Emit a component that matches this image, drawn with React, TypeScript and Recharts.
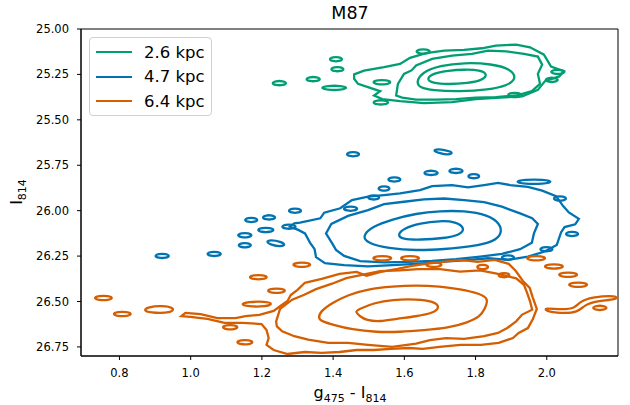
import { ComposedChart, Line, XAxis, YAxis, ReferenceArea } from 'recharts'

type Pt = [number, number]

const GREEN = '#029e73'
const BLUE = '#0173b2'
const ORANGE = '#d55e00'

const X_TICKS = [0.8, 1.0, 1.2, 1.4, 1.6, 1.8, 2.0]
const Y_TICKS = [25.0, 25.25, 25.5, 25.75, 26.0, 26.25, 26.5, 26.75]
const X_DOMAIN: [number, number] = [0.692, 2.2]
const Y_DOMAIN: [number, number] = [25.0, 26.8]

const SERIES = [
  { name: '2.6 kpc', color: GREEN },
  { name: '4.7 kpc', color: BLUE },
  { name: '6.4 kpc', color: ORANGE },
]

// --- 2.6 kpc contours (green) ---
const greenL4: Pt[] = [
  [1.661, 25.274], [1.683, 25.243], [1.723, 25.229], [1.768, 25.223], [1.813, 25.225],
  [1.835, 25.25], [1.818, 25.283], [1.779, 25.298], [1.723, 25.305], [1.678, 25.298],
]
const greenL3: Pt[] = [
  [1.633, 25.293], [1.65, 25.238], [1.7, 25.201], [1.768, 25.185], [1.846, 25.192],
  [1.897, 25.219], [1.916, 25.269], [1.891, 25.311], [1.835, 25.335], [1.756, 25.344],
  [1.678, 25.338], [1.644, 25.324],
]
const greenL2: Pt[] = [
  [1.577, 25.366], [1.582, 25.302], [1.599, 25.247], [1.62, 25.228], [1.633, 25.201], [1.678, 25.165],
  [1.734, 25.146], [1.79, 25.137], [1.835, 25.119], [1.886, 25.123], [1.936, 25.137],
  [1.975, 25.152], [1.987, 25.196], [1.975, 25.247], [1.981, 25.302], [1.958, 25.342],
  [1.914, 25.366], [1.857, 25.375], [1.801, 25.378], [1.745, 25.386], [1.689, 25.389],
  [1.633, 25.389], [1.594, 25.378],
]
const greenL1: Pt[] = [
  [1.459, 25.25], [1.487, 25.229], [1.543, 25.21], [1.588, 25.192], [1.616, 25.159],
  [1.661, 25.133], [1.712, 25.119], [1.768, 25.115], [1.818, 25.106], [1.857, 25.091],
  [1.914, 25.086], [1.953, 25.101], [1.992, 25.141], [2.012, 25.207], [2.048, 25.232],
  [2.035, 25.261], [1.995, 25.287], [1.975, 25.335], [1.931, 25.371], [1.869, 25.378],
  [1.801, 25.386], [1.734, 25.402], [1.655, 25.408], [1.588, 25.397], [1.538, 25.386],
  [1.515, 25.366], [1.532, 25.342], [1.504, 25.324], [1.47, 25.302], [1.459, 25.274],
]
const greenBlobs: Pt[][] = [
  [[1.227, 25.298], [1.238, 25.286], [1.26, 25.286], [1.271, 25.298], [1.26, 25.31], [1.238, 25.31]],
  [[1.322, 25.276], [1.333, 25.264], [1.355, 25.264], [1.366, 25.276], [1.355, 25.288], [1.333, 25.288]],
  [[1.388, 25.166], [1.398, 25.154], [1.418, 25.154], [1.428, 25.166], [1.418, 25.178], [1.398, 25.178]],
  [[1.392, 25.221], [1.402, 25.209], [1.422, 25.209], [1.432, 25.221], [1.422, 25.233], [1.402, 25.233]],
  [[1.363, 25.324], [1.383, 25.312], [1.423, 25.312], [1.443, 25.324], [1.423, 25.336], [1.383, 25.336]],
  [[1.51, 25.404], [1.522, 25.392], [1.546, 25.392], [1.558, 25.404], [1.546, 25.416], [1.522, 25.416]],
  [[1.631, 25.124], [1.642, 25.112], [1.664, 25.112], [1.675, 25.124], [1.664, 25.136], [1.642, 25.136]],
  [[1.888, 25.363], [1.899, 25.351], [1.921, 25.351], [1.932, 25.363], [1.921, 25.375], [1.899, 25.375]],
  [[2.009, 25.236], [2.02, 25.224], [2.042, 25.224], [2.053, 25.236], [2.042, 25.248], [2.02, 25.248]],
  [[1.509, 25.293], [1.523, 25.281], [1.551, 25.281], [1.565, 25.293], [1.551, 25.305], [1.523, 25.305]],
  [[1.994, 25.28], [2.004, 25.268], [2.024, 25.268], [2.034, 25.28], [2.024, 25.292], [2.004, 25.292]],
]

// --- 4.7 kpc contours (blue) ---
const blueL4: Pt[] = [
  [1.58, 26.134], [1.599, 26.097], [1.644, 26.07], [1.7, 26.055], [1.745, 26.061],
  [1.771, 26.097], [1.756, 26.134], [1.712, 26.152], [1.644, 26.161], [1.594, 26.157],
]
const blueL3: Pt[] = [
  [1.481, 26.143], [1.509, 26.088], [1.566, 26.048], [1.633, 26.015], [1.7, 26.002],
  [1.768, 26.0], [1.835, 26.024], [1.869, 26.07], [1.874, 26.128], [1.852, 26.17],
  [1.79, 26.198], [1.712, 26.212], [1.633, 26.22], [1.554, 26.207], [1.498, 26.179],
]
const blueL2: Pt[] = [
  [1.397, 26.179], [1.38, 26.125], [1.395, 26.073], [1.442, 26.029], [1.498, 25.997],
  [1.543, 25.964], [1.599, 25.951], [1.655, 25.938], [1.712, 25.933], [1.768, 25.942],
  [1.824, 25.953], [1.874, 25.978], [1.925, 26.015], [1.959, 26.042], [1.975, 26.073],
  [1.964, 26.125], [1.958, 26.176], [1.925, 26.212], [1.874, 26.238], [1.813, 26.253],
  [1.745, 26.267], [1.678, 26.276], [1.611, 26.282], [1.543, 26.285], [1.476, 26.278],
  [1.431, 26.249], [1.408, 26.216],
]
const blueL1: Pt[] = [
  [1.307, 26.066], [1.364, 26.042], [1.375, 26.011], [1.42, 25.987], [1.453, 25.942],
  [1.498, 25.923], [1.543, 25.914], [1.588, 25.905], [1.644, 25.887], [1.678, 25.865],
  [1.734, 25.859], [1.779, 25.872], [1.824, 25.859], [1.863, 25.847], [1.897, 25.859],
  [1.947, 25.869], [1.987, 25.89], [2.026, 25.92], [2.046, 25.975], [2.062, 26.01],
  [2.09, 26.045], [2.08, 26.075], [2.05, 26.09], [2.04, 26.12], [2.028, 26.189],
  [1.994, 26.225], [1.947, 26.253], [1.891, 26.271], [1.835, 26.262], [1.768, 26.274],
  [1.7, 26.282], [1.633, 26.293], [1.566, 26.3], [1.498, 26.307], [1.431, 26.3],
  [1.377, 26.289], [1.352, 26.256], [1.348, 26.212], [1.335, 26.176], [1.321, 26.125],
  [1.302, 26.106], [1.279, 26.088], [1.291, 26.07],
]
const blueBlobs: Pt[][] = [
  [[0.898, 26.249], [0.909, 26.237], [0.931, 26.237], [0.942, 26.249], [0.931, 26.261], [0.909, 26.261]],
  [[1.044, 26.238], [1.055, 26.226], [1.077, 26.226], [1.088, 26.238], [1.077, 26.25], [1.055, 26.25]],
  [[1.15, 26.051], [1.16, 26.039], [1.18, 26.039], [1.19, 26.051], [1.18, 26.063], [1.16, 26.063]],
  [[1.2, 26.037], [1.21, 26.025], [1.23, 26.025], [1.24, 26.037], [1.23, 26.049], [1.21, 26.049]],
  [[1.273, 26.0], [1.283, 25.988], [1.303, 25.988], [1.313, 26.0], [1.303, 26.012], [1.283, 26.012]],
  [[1.13, 26.135], [1.141, 26.123], [1.163, 26.123], [1.174, 26.135], [1.163, 26.147], [1.141, 26.147]],
  [[1.132, 26.19], [1.142, 26.178], [1.162, 26.178], [1.172, 26.19], [1.162, 26.202], [1.142, 26.202]],
  [[1.211, 26.17], [1.225, 26.16], [1.253, 26.17], [1.267, 26.188], [1.253, 26.198], [1.225, 26.188]],
  [[1.186, 26.106], [1.198, 26.094], [1.224, 26.094], [1.236, 26.106], [1.224, 26.118], [1.198, 26.118]],
  [[1.254, 26.088], [1.265, 26.076], [1.287, 26.076], [1.298, 26.088], [1.287, 26.1], [1.265, 26.1]],
  [[1.436, 25.689], [1.446, 25.677], [1.466, 25.677], [1.476, 25.689], [1.466, 25.701], [1.446, 25.701]],
  [[1.679, 25.67], [1.694, 25.66], [1.715, 25.668], [1.739, 25.68], [1.724, 25.694], [1.7, 25.684]],
  [[1.653, 25.792], [1.664, 25.78], [1.686, 25.78], [1.697, 25.792], [1.686, 25.804], [1.664, 25.804]],
  [[1.723, 25.781], [1.734, 25.769], [1.756, 25.769], [1.767, 25.781], [1.756, 25.793], [1.734, 25.793]],
  [[1.777, 25.81], [1.786, 25.798], [1.804, 25.798], [1.813, 25.81], [1.804, 25.822], [1.786, 25.822]],
  [[1.552, 25.828], [1.562, 25.816], [1.582, 25.816], [1.592, 25.828], [1.582, 25.84], [1.562, 25.84]],
  [[1.525, 25.878], [1.534, 25.866], [1.552, 25.866], [1.561, 25.878], [1.552, 25.89], [1.534, 25.89]],
  [[1.496, 25.927], [1.505, 25.915], [1.523, 25.915], [1.532, 25.927], [1.523, 25.939], [1.505, 25.939]],
  [[1.427, 25.989], [1.438, 25.977], [1.46, 25.977], [1.471, 25.989], [1.46, 26.001], [1.438, 26.001]],
  [[1.909, 25.841], [1.936, 25.829], [1.992, 25.829], [2.019, 25.841], [1.992, 25.853], [1.936, 25.853]],
  [[2.017, 25.933], [2.027, 25.921], [2.047, 25.921], [2.057, 25.933], [2.047, 25.945], [2.027, 25.945]],
  [[2.051, 26.128], [2.061, 26.116], [2.081, 26.116], [2.091, 26.128], [2.081, 26.14], [2.061, 26.14]],
  [[1.979, 26.212], [1.989, 26.2], [2.009, 26.2], [2.019, 26.212], [2.009, 26.224], [1.989, 26.224]],
  [[1.871, 26.258], [1.881, 26.246], [1.901, 26.246], [1.911, 26.258], [1.901, 26.27], [1.881, 26.27]],
]

// --- 6.4 kpc contours (orange) ---
const orangeL4: Pt[] = [
  [1.459, 26.554], [1.481, 26.536], [1.515, 26.508], [1.566, 26.49], [1.633, 26.487],
  [1.683, 26.499], [1.7, 26.53], [1.683, 26.563], [1.633, 26.582], [1.577, 26.596],
  [1.532, 26.611], [1.493, 26.604], [1.476, 26.582],
]
const orangeL3: Pt[] = [
  [1.358, 26.594], [1.364, 26.554], [1.397, 26.508], [1.442, 26.463], [1.498, 26.432],
  [1.566, 26.417], [1.633, 26.41], [1.7, 26.417], [1.756, 26.432], [1.813, 26.457],
  [1.837, 26.485], [1.826, 26.541], [1.813, 26.582], [1.779, 26.615], [1.723, 26.646],
  [1.655, 26.658], [1.588, 26.668], [1.521, 26.669], [1.453, 26.655], [1.397, 26.627],
  [1.369, 26.609],
]
const orangeL2: Pt[] = [
  [1.24, 26.609], [1.251, 26.541], [1.285, 26.49], [1.319, 26.463], [1.352, 26.432],
  [1.397, 26.402], [1.437, 26.371], [1.481, 26.353], [1.532, 26.333], [1.588, 26.329],
  [1.639, 26.322], [1.7, 26.322], [1.756, 26.335], [1.813, 26.329], [1.863, 26.348],
  [1.914, 26.373], [1.936, 26.408], [1.945, 26.454], [1.953, 26.499], [1.959, 26.545],
  [1.931, 26.572], [1.914, 26.609], [1.889, 26.646], [1.863, 26.673], [1.824, 26.691],
  [1.768, 26.706], [1.717, 26.702], [1.672, 26.713], [1.633, 26.732], [1.566, 26.75],
  [1.498, 26.739], [1.442, 26.728], [1.386, 26.728], [1.33, 26.71], [1.291, 26.691],
  [1.257, 26.664], [1.242, 26.637],
]
const orangeL1: Pt[] = [
  [1.32, 26.398], [1.368, 26.376], [1.418, 26.348], [1.466, 26.337], [1.494, 26.359],
  [1.534, 26.337], [1.581, 26.321], [1.621, 26.304], [1.66, 26.293], [1.708, 26.282],
  [1.758, 26.271], [1.806, 26.282], [1.854, 26.271], [1.893, 26.293], [1.913, 26.332],
  [1.933, 26.387], [1.952, 26.425], [1.961, 26.48], [1.972, 26.541], [1.961, 26.596],
  [1.947, 26.646], [1.921, 26.673], [1.905, 26.701], [1.865, 26.728], [1.815, 26.739],
  [1.758, 26.739], [1.699, 26.75], [1.652, 26.761], [1.612, 26.756], [1.562, 26.761],
  [1.514, 26.767], [1.466, 26.767], [1.418, 26.778], [1.368, 26.783], [1.32, 26.778],
  [1.272, 26.789], [1.233, 26.767], [1.213, 26.739], [1.219, 26.701], [1.213, 26.657],
  [1.199, 26.624], [1.146, 26.618], [1.095, 26.618], [1.047, 26.596], [0.999, 26.585],
  [0.974, 26.58], [0.985, 26.563], [1.028, 26.569], [1.075, 26.591], [1.126, 26.591],
  [1.154, 26.58], [1.193, 26.574], [1.233, 26.552], [1.252, 26.525], [1.272, 26.497],
  [1.281, 26.464], [1.3, 26.436],
]
const orangeBlobs: Pt[][] = [
  [[0.727, 26.481], [0.741, 26.469], [0.769, 26.469], [0.783, 26.481], [0.769, 26.493], [0.741, 26.493]],
  [[0.78, 26.569], [0.794, 26.557], [0.822, 26.557], [0.836, 26.569], [0.822, 26.581], [0.794, 26.581]],
  [[0.865, 26.552], [0.88, 26.53], [0.92, 26.522], [0.955, 26.535], [0.948, 26.56], [0.9, 26.565]],
  [[1.087, 26.642], [1.099, 26.63], [1.123, 26.63], [1.135, 26.642], [1.123, 26.654], [1.099, 26.654]],
  [[1.127, 26.724], [1.14, 26.712], [1.165, 26.712], [1.177, 26.724], [1.165, 26.736], [1.14, 26.736]],
  [[1.162, 26.366], [1.176, 26.354], [1.204, 26.354], [1.218, 26.366], [1.204, 26.378], [1.176, 26.378]],
  [[1.213, 26.441], [1.227, 26.429], [1.255, 26.429], [1.269, 26.441], [1.255, 26.453], [1.227, 26.453]],
  [[1.284, 26.298], [1.298, 26.286], [1.326, 26.286], [1.34, 26.298], [1.326, 26.31], [1.298, 26.31]],
  [[1.139, 26.516], [1.16, 26.502], [1.21, 26.5], [1.232, 26.512], [1.212, 26.528], [1.16, 26.528]],
  [[2.127, 26.535], [2.138, 26.523], [2.16, 26.523], [2.171, 26.535], [2.16, 26.547], [2.138, 26.547]],
  [[1.94, 26.262], [1.955, 26.25], [1.985, 26.25], [2.0, 26.262], [1.985, 26.274], [1.955, 26.274]],
  [[1.99, 26.307], [2.005, 26.295], [2.035, 26.295], [2.05, 26.307], [2.035, 26.319], [2.005, 26.319]],
  [[2.03, 26.353], [2.045, 26.341], [2.075, 26.341], [2.09, 26.353], [2.075, 26.365], [2.045, 26.365]],
  [[2.058, 26.408], [2.073, 26.396], [2.103, 26.396], [2.118, 26.408], [2.103, 26.42], [2.073, 26.42]],
  [[1.508, 26.262], [1.523, 26.25], [1.553, 26.25], [1.568, 26.262], [1.553, 26.274], [1.523, 26.274]],
  [[1.586, 26.262], [1.601, 26.25], [1.631, 26.25], [1.646, 26.262], [1.631, 26.274], [1.601, 26.274]],
  [[1.658, 26.298], [1.67, 26.286], [1.696, 26.286], [1.708, 26.298], [1.696, 26.31], [1.67, 26.31]],
  [[1.802, 26.31], [1.811, 26.298], [1.829, 26.298], [1.838, 26.31], [1.829, 26.322], [1.811, 26.322]],
  [[1.862, 26.355], [1.871, 26.343], [1.889, 26.343], [1.898, 26.355], [1.889, 26.367], [1.871, 26.367]],
  [
    [1.995, 26.535], [2.04, 26.545], [2.08, 26.538], [2.092, 26.5], [2.13, 26.475], [2.198, 26.466],
    [2.198, 26.49], [2.14, 26.496], [2.105, 26.52], [2.088, 26.56], [2.04, 26.566], [1.995, 26.552],
  ],
]

type CurveKind = 'basisClosed' | 'linearClosed'

const contours: { color: string; pts: Pt[]; curve: CurveKind }[] = [
  { color: GREEN, pts: greenL1, curve: 'linearClosed' },
  { color: GREEN, pts: greenL2, curve: 'linearClosed' },
  { color: GREEN, pts: greenL3, curve: 'basisClosed' },
  { color: GREEN, pts: greenL4, curve: 'basisClosed' },
  ...greenBlobs.map((pts) => ({ color: GREEN, pts, curve: 'basisClosed' as CurveKind })),
  { color: BLUE, pts: blueL1, curve: 'linearClosed' },
  { color: BLUE, pts: blueL2, curve: 'linearClosed' },
  { color: BLUE, pts: blueL3, curve: 'basisClosed' },
  { color: BLUE, pts: blueL4, curve: 'basisClosed' },
  ...blueBlobs.map((pts) => ({ color: BLUE, pts, curve: 'basisClosed' as CurveKind })),
  { color: ORANGE, pts: orangeL1, curve: 'linearClosed' },
  { color: ORANGE, pts: orangeL2, curve: 'linearClosed' },
  { color: ORANGE, pts: orangeL3, curve: 'basisClosed' },
  { color: ORANGE, pts: orangeL4, curve: 'basisClosed' },
  ...orangeBlobs.map((pts) => ({ color: ORANGE, pts, curve: 'basisClosed' as CurveKind })),
]

const FONT = '"DejaVu Sans", sans-serif'
const tickStyle = { fill: '#000', fontSize: 11.5, fontFamily: FONT }

export default function App() {
  return (
    <div style={{ position: 'absolute', left: 0, top: 0, width: 630, height: 405, background: '#fff', fontFamily: FONT }}>
      <ComposedChart width={630} height={405} margin={{ top: 29, right: 12, bottom: 0, left: 0 }}>
        <XAxis
          type="number"
          dataKey="x"
          domain={X_DOMAIN}
          ticks={X_TICKS}
          tickFormatter={(v: number) => v.toFixed(1)}
          allowDataOverflow
          height={49}
          tick={tickStyle}
          tickSize={4}
          tickMargin={9}
          tickLine={{ stroke: '#000' }}
          axisLine={{ stroke: '#000' }}
        />
        <YAxis
          type="number"
          dataKey="y"
          domain={Y_DOMAIN}
          reversed
          ticks={Y_TICKS}
          tickFormatter={(v: number) => v.toFixed(2)}
          allowDataOverflow
          width={81}
          tick={tickStyle}
          tickSize={4}
          tickMargin={8}
          tickLine={{ stroke: '#000' }}
          axisLine={{ stroke: '#000' }}
        />
        <ReferenceArea
          x1={X_DOMAIN[0]}
          x2={X_DOMAIN[1]}
          y1={Y_DOMAIN[0]}
          y2={Y_DOMAIN[1]}
          fill="none"
          stroke="#000"
          strokeWidth={1}
          fillOpacity={0}
        />
        {contours.map((c, i) => (
          <Line
            key={i}
            data={c.pts.map(([x, y]) => ({ x, y }))}
            dataKey="y"
            type={c.curve}
            stroke={c.color}
            strokeWidth={2.3}
            dot={false}
            activeDot={false}
            legendType="none"
            isAnimationActive={false}
          />
        ))}
      </ComposedChart>

      <div style={{ position: 'absolute', left: 0, width: 700, top: 3, textAlign: 'center', fontSize: 17.5, color: '#000' }}>
        M87
      </div>
      <div style={{ position: 'absolute', left: 0, width: 700, top: 383, textAlign: 'center', fontSize: 16, color: '#000' }}>
        g<sub style={{ fontSize: 11 }}>475</sub> - I<sub style={{ fontSize: 11 }}>814</sub>
      </div>
      <div
        style={{
          position: 'absolute',
          left: 18,
          top: 192,
          transform: 'translate(-50%, -50%) rotate(-90deg)',
          fontSize: 16,
          color: '#000',
          whiteSpace: 'nowrap',
        }}
      >
        I<sub style={{ fontSize: 11 }}>814</sub>
      </div>

      <div
        style={{
          position: 'absolute',
          left: 89,
          top: 37,
          width: 121,
          height: 77,
          border: '1px solid #d0d0d0',
          borderRadius: 4,
          background: 'rgba(255,255,255,0.85)',
        }}
      >
        {SERIES.map((s, i) => (
          <div key={s.name} style={{ position: 'absolute', left: 6, top: 4 + i * 24.5, height: 20, display: 'flex', alignItems: 'center' }}>
            <span style={{ display: 'inline-block', width: 36, height: 2, background: s.color }} />
            <span style={{ marginLeft: 12, fontSize: 16.5, color: '#000' }}>{s.name}</span>
          </div>
        ))}
      </div>
    </div>
  )
}
